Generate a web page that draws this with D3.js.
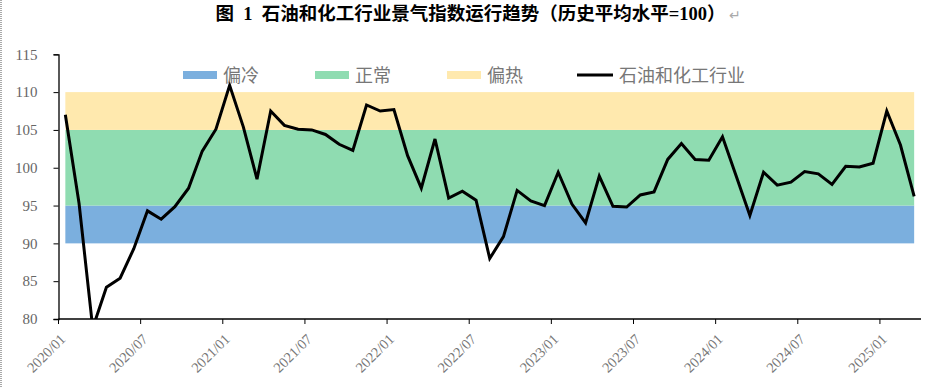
<!DOCTYPE html>
<html>
<head>
<meta charset="utf-8">
<script src="https://cdn.jsdelivr.net/npm/d3@7"></script>
<style>
  body { margin: 0; background: #fff; }
  svg { display: block; }
</style>
</head>
<body>
<svg width="937" height="388"></svg>
<script>
// 景气指数 2020/01 - 2025/03, monthly
const startMonth = "2020-01";
const monthCount = 63;
const indexValues = [
  107.0, 95.3, 78.8, 84.2, 85.4, 89.3, 94.3, 93.2, 94.85, 97.3, 102.2, 105.1,
  110.9, 105.4, 98.5, 107.5, 105.6, 105.1, 105.0, 104.4, 103.1, 102.3, 108.3, 107.5,
  107.7, 101.6, 97.3, 103.8, 96.0, 96.9, 95.7, 88.0, 90.9, 97.0, 95.6, 95.0,
  99.4, 95.2, 92.7, 98.9, 94.9, 94.8, 96.4, 96.8, 101.1, 103.2, 101.1, 101.0,
  104.1, 98.9, 93.7, 99.4, 97.7, 98.1, 99.5, 99.2, 97.8, 100.2, 100.1, 100.6,
  107.5, 103.0, 96.2
];
const bandNames = ["偏冷", "正常", "偏热"];
const bandLow = [90, 95, 105];
const bandHigh = [95, 105, 110];
const seriesName = "石油和化工行业";
const yTicks = [80, 85, 90, 95, 100, 105, 110, 115];

const bandColors = ["#7bafde", "#8fdcb1", "#ffe9ae"];

const svg = d3.select("svg");
const parse = d3.timeParse("%Y-%m");
const fmt = d3.timeFormat("%Y/%m");
const t0 = parse(startMonth);
const months = d3.timeMonth.range(t0, d3.timeMonth.offset(t0, monthCount));
const data = months.map((m, i) => ({ m: m, v: indexValues[i] }));

const pL = 58.5, pR = 921, pT = 54.3, pB = 319;

const x = d3.scaleBand()
  .domain(months.map(fmt))
  .range([pL, pR])
  .padding(0);
const y = d3.scaleLinear().domain([80, 115]).range([pB, pT]);
const cx = d => x(fmt(d)) + x.bandwidth() / 2;

// left dotted page edge
svg.append("line")
  .attr("x1", 1).attr("x2", 1).attr("y1", 0).attr("y2", 388)
  .attr("stroke", "#555").attr("stroke-dasharray", "1,1");

// title
const title = svg.append("text")
  .attr("x", 478).attr("y", 20)
  .attr("text-anchor", "middle")
  .style("font-family", "'Liberation Serif', 'Noto Sans CJK SC', serif")
  .style("font-weight", "bold")
  .style("font-size", "18.5px")
  .attr("fill", "#000");
title.append("tspan").text("图\u20021\u2002石油和化工行业景气指数运行趋势（历史平均水平=100）");
title.append("tspan").text("↵")
  .attr("fill", "#aaa").style("font-weight", "normal").style("font-size", "14px").attr("dx", 3);

// bands
const x0 = cx(months[0]), x1 = cx(months[months.length - 1]);
svg.selectAll(".band")
  .data(bandNames)
  .enter().append("rect")
  .attr("class", "band")
  .attr("x", x0)
  .attr("width", x1 - x0)
  .attr("y", (d, i) => y(bandHigh[i]))
  .attr("height", (d, i) => y(bandLow[i]) - y(bandHigh[i]))
  .attr("fill", (d, i) => bandColors[i]);

// clip
svg.append("clipPath").attr("id", "plot")
  .append("rect").attr("x", pL).attr("y", pT - 10).attr("width", pR - pL + 10).attr("height", pB - pT + 10);

const line = d3.line().x(d => cx(d.m)).y(d => y(d.v));
svg.append("path")
  .datum(data)
  .attr("clip-path", "url(#plot)")
  .attr("d", line)
  .attr("fill", "none")
  .attr("stroke", "#000")
  .attr("stroke-width", 3)
  .attr("stroke-linejoin", "miter");

// y axis
const yAxis = svg.append("g")
  .attr("transform", `translate(${pL},0)`)
  .call(d3.axisLeft(y).tickValues(yTicks).tickSize(5).tickPadding(16));
yAxis.select(".domain").attr("stroke", "#000").attr("stroke-width", 1.3);
yAxis.selectAll(".tick line").attr("stroke", "#000");
yAxis.selectAll("text")
  .attr("fill", "#666")
  .style("font-family", "'Liberation Serif', serif")
  .style("font-size", "15px");

// x axis: ticks every 6 months at category edge
const tickMonths = months.filter((m, i) => i % 6 === 0);
const xAxis = svg.append("g");
xAxis.append("line")
  .attr("x1", pL).attr("x2", pR)
  .attr("y1", pB).attr("y2", pB)
  .attr("stroke", "#000").attr("stroke-width", 1.3);
xAxis.selectAll(".xt")
  .data(tickMonths)
  .enter().append("line")
  .attr("x1", d => x(fmt(d))).attr("x2", d => x(fmt(d)))
  .attr("y1", pB).attr("y2", pB + 5)
  .attr("stroke", "#000");
xAxis.selectAll(".xl")
  .data(tickMonths)
  .enter().append("text")
  .attr("transform", d => `translate(${x(fmt(d)) + 8},${pB + 21}) rotate(-45)`)
  .attr("text-anchor", "end")
  .attr("fill", "#777")
  .style("font-family", "'Liberation Serif', serif")
  .style("font-size", "14.5px")
  .text(fmt);

// legend
const legendItems = bandNames.concat([seriesName]);
const lg = svg.selectAll(".lg")
  .data(legendItems)
  .enter().append("g")
  .attr("transform", (d, i) => `translate(${183 + i * 132},75)`);
lg.filter((d, i) => i < 3).append("rect")
  .attr("x", 0).attr("y", -4).attr("width", 34).attr("height", 8)
  .attr("fill", (d, i) => bandColors[i]);
lg.filter((d, i) => i === 3).append("line")
  .attr("x1", -2).attr("x2", 34).attr("y1", 0).attr("y2", 0)
  .attr("stroke", "#000").attr("stroke-width", 3);
lg.append("text")
  .attr("x", 40).attr("y", 6.5)
  .attr("fill", "#777")
  .style("font-family", "'Noto Sans CJK SC', sans-serif")
  .style("font-size", "18px")
  .text(d => d);
</script>
</body>
</html>
